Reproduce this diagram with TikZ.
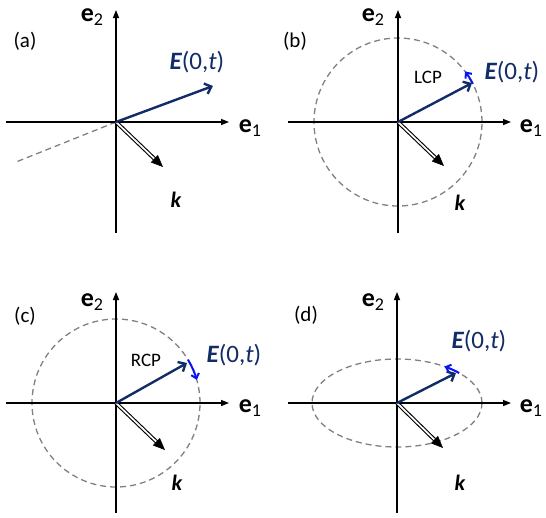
\documentclass[tikz,border=0pt]{standalone}
\usepackage{fontspec}
\setmainfont{Carlito}
\usetikzlibrary{arrows.meta,calc}
\definecolor{navy}{RGB}{18,44,104}
\definecolor{rotblue}{RGB}{10,20,240}
\definecolor{dgray}{RGB}{128,128,128}
\newcommand{\sbs}[1]{\raisebox{-0.35ex}{\fontsize{18}{18}\selectfont\mdseries #1}}
\newcommand{\Elab}{{\bfseries\itshape E}(0,{\itshape t})}
\tikzset{
  axis/.style={line width=1.4pt, -{Triangle[length=8pt,width=6pt]}},
  evec/.style={navy, line width=2.4pt, -{Straight Barb[length=6pt,width=11pt]}},
  rot/.style={rotblue, line width=2pt, -{Straight Barb[length=4.5pt,width=8pt]}},
  kshaft/.style={double=white, double distance=1.7pt, line width=1.1pt},
  khead/.style={-{Triangle[length=12pt,width=10pt]}, line width=0.6pt},
  pol/.style={dgray, line width=1.3pt, dash pattern=on 6pt off 4pt},
  elabel/.style={font=\fontsize{26}{26}\selectfont\bfseries, inner sep=0pt},
  plabel/.style={font=\fontsize{21}{21}\selectfont, inner sep=0pt},
  Etext/.style={font=\fontsize{25}{25}\selectfont, text=navy, inner sep=0pt},
  ktext/.style={font=\fontsize{22}{22}\selectfont\bfseries\itshape, inner sep=0pt},
  cptext/.style={font=\fontsize{19}{19}\selectfont, inner sep=0pt}
}
\begin{document}
\begin{tikzpicture}[x=1pt,y=1pt]
\useasboundingbox (0,0) rectangle (546,-517);
% ---------- (a)
\begin{scope}[shift={(116,-122)}]
  \coordinate (aO) at (0,0);
  \coordinate (aXl) at (-110,0); \coordinate (aXr) at (113,0);
  \coordinate (aYb) at (0,-111); \coordinate (aYt) at (0,112);
  \coordinate (aD) at (-100,-40);
  \coordinate (aE) at (97,36);
  \coordinate (aK) at (47,-45);
  \draw[pol] (aO) -- (aD);
  \draw[axis] (aXl) -- (aXr);
  \draw[axis] (aYb) -- (aYt);
  \draw[kshaft] (aO) -- ($(aK)!10pt!(aO)$);
  \draw[khead] ($(aK)!12pt!(aO)$) -- (aK);
  \draw[evec] (aO) -- (aE);
  \node[elabel] (ae1) at (134,-6) {e\sbs{1}};
  \node[elabel] (ae2) at (-24,105) {e\sbs{2}};
  \node[plabel] (alab) at (-91,81) {(a)};
  \node[Etext] (aEl) at (81,60) {\Elab};
  \node[ktext] (akl) at (60,-78) {k};
\end{scope}
% ---------- (b)
\begin{scope}[shift={(398,-122)}]
  \coordinate (bO) at (0,0);
  \coordinate (bXl) at (-110,0); \coordinate (bXr) at (113,0);
  \coordinate (bYb) at (0,-111); \coordinate (bYt) at (0,112);
  \coordinate (bE) at (74,39);
  \coordinate (bK) at (46,-44);
  \draw[pol] (bO) circle[radius=84pt];
  \draw[axis] (bXl) -- (bXr);
  \draw[axis] (bYb) -- (bYt);
  \draw[kshaft] (bO) -- ($(bK)!10pt!(bO)$);
  \draw[khead] ($(bK)!12pt!(bO)$) -- (bK);
  \draw[evec] (bO) -- (bE);
  \coordinate (bR) at (27:84pt);
  \draw[rot] (bR) arc[start angle=27, end angle=37, radius=84pt];
  \node[elabel] (be1) at (133,-6) {e\sbs{1}};
  \node[elabel] (be2) at (-25,105) {e\sbs{2}};
  \node[plabel] (blab) at (-103,81) {(b)};
  \node[Etext] (bEl) at (114,50) {\Elab};
  \node[cptext] (bcp) at (30,45) {LCP};
  \node[ktext] (bkl) at (62,-81) {k};
\end{scope}
% ---------- (c)
\begin{scope}[shift={(116,-403)}]
  \coordinate (cO) at (0,0);
  \coordinate (cXl) at (-110,0); \coordinate (cXr) at (113,0);
  \coordinate (cYb) at (0,-110); \coordinate (cYt) at (0,111);
  \coordinate (cE) at (71,40);
  \coordinate (cK) at (49,-47);
  \draw[pol] (cO) circle[radius=84pt];
  \draw[axis] (cXl) -- (cXr);
  \draw[axis] (cYb) -- (cYt);
  \draw[kshaft] (cO) -- ($(cK)!10pt!(cO)$);
  \draw[khead] ($(cK)!12pt!(cO)$) -- (cK);
  \draw[evec] (cO) -- (cE);
  \coordinate (cR) at (31:84pt);
  \draw[rot] (cR) arc[start angle=31, end angle=16, radius=84pt];
  \node[elabel] (ce1) at (134,-5) {e\sbs{1}};
  \node[elabel] (ce2) at (-24,101) {e\sbs{2}};
  \node[plabel] (clab) at (-91,87) {(c)};
  \node[Etext] (cEl) at (118,48) {\Elab};
  \node[cptext] (ccp) at (30,43) {RCP};
  \node[ktext] (ckl) at (61,-80) {k};
\end{scope}
% ---------- (d)
\begin{scope}[shift={(397,-403)}]
  \coordinate (dO) at (0,0);
  \coordinate (dXl) at (-109,0); \coordinate (dXr) at (114,0);
  \coordinate (dYb) at (0,-110); \coordinate (dYt) at (0,111);
  \coordinate (dE) at (59,30);
  \coordinate (dK) at (46,-45);
  \draw[pol] (dO) ellipse[x radius=85pt, y radius=44pt];
  \draw[axis] (dXl) -- (dXr);
  \draw[axis] (dYb) -- (dYt);
  \draw[kshaft] (dO) -- ($(dK)!10pt!(dO)$);
  \draw[khead] ($(dK)!12pt!(dO)$) -- (dK);
  \draw[evec] (dO) -- (dE);
  \coordinate (dR) at ({85*cos(43)},{44*sin(43)});
  \draw[rot] (dR) arc[start angle=43, end angle=56, x radius=85pt, y radius=44pt];
  \node[elabel] (de1) at (134,-5) {e\sbs{1}};
  \node[elabel] (de2) at (-24,101) {e\sbs{2}};
  \node[plabel] (dlab) at (-91,88) {(d)};
  \node[Etext] (dEl) at (82,62) {\Elab};
  \node[ktext] (dkl) at (63,-80) {k};
\end{scope}
\end{tikzpicture}
\end{document}
